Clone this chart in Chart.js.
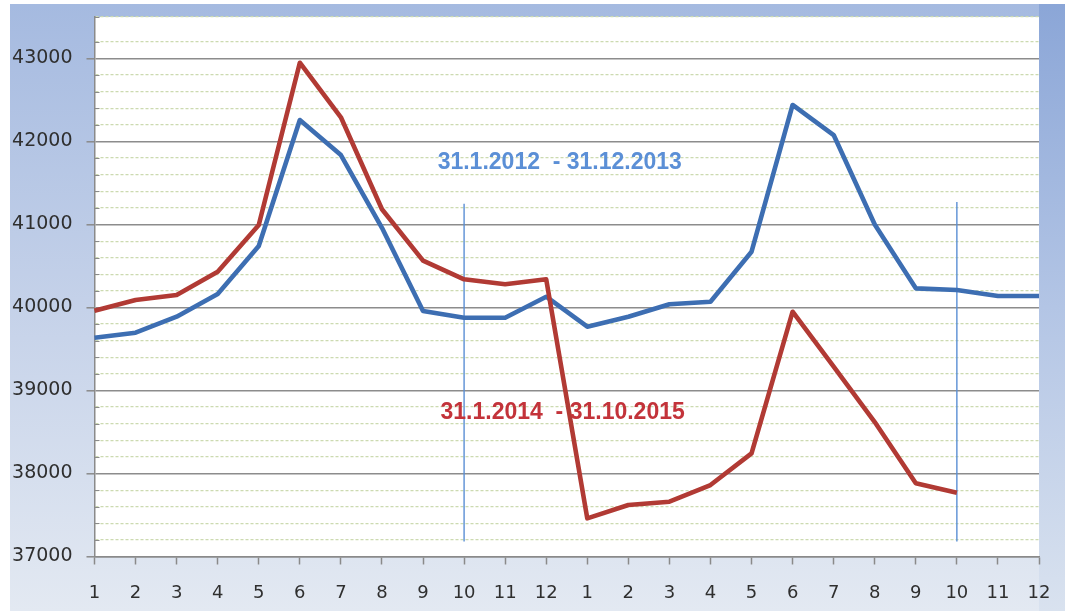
<!DOCTYPE html>
<html>
<head>
<meta charset="utf-8">
<script src="https://cdn.jsdelivr.net/npm/chart.js@4"></script>
<style>
  html, body { margin: 0; padding: 0; background: #ffffff; }
  #wrap { position: relative; width: 1065px; height: 614px; }
</style>
</head>
<body>
<div id="wrap"><canvas id="c" width="1065" height="614"></canvas></div>
<script>
// ---- data ----
const monthLabels = ['1','2','3','4','5','6','7','8','9','10','11','12',
                     '1','2','3','4','5','6','7','8','9','10','11','12'];
// 31.1.2012 - 31.12.2013
const series2012 = [39636, 39696, 39889, 40163, 40741, 42259, 41837, 40960, 39958, 39877, 39877, 40130,
                    39769, 39889, 40039, 40070, 40672, 42440, 42078, 41000, 40231, 40211, 40139, 40139];
// 31.1.2014 - 31.10.2015
const series2014 = [39961, 40090, 40151, 40431, 40994, 42949, 42292, 41183, 40564, 40340, 40280, 40340,
                    37460, 37620, 37660, 37861, 38243, 39949, 39287, 38620, 37882, 37769];
const seriesNames = ['31.1.2012  - 31.12.2013', '31.1.2014  - 31.10.2015'];
// vertical divider lines (category position, top value, bottom value)
const dividerIndex = [9, 21];
const dividerTop = [41250, 41270];
const dividerBottom = [37180, 37180];
// text labels inside the plot (category position, value)
const labelX = [11.33, 11.40];
const labelY = [41750, 38730];
const yMin = 37000, yMax = 43500, yStep = 200, yMajor = 1000;

const BLUE = '#3d6eb2';
const RED = '#b13a34';
const DIV = '#5a8ed4';

const dividerSets = dividerIndex.map((xi, k) => ({
  label: 'divider' + k,
  xAxisID: 'xpos',
  data: [{x: xi, y: dividerTop[k]}, {x: xi, y: dividerBottom[k]}],
  borderColor: DIV,
  borderWidth: 1.4,
  pointRadius: 0,
  fill: false,
  order: 3
}));

const bgPlugin = {
  id: 'bg',
  beforeDraw(chart) {
    const ctx = chart.ctx, a = chart.chartArea;
    const W = chart.width, H = chart.height;
    ctx.save();
    ctx.fillStyle = '#ffffff';
    ctx.fillRect(0, 0, W, H);
    const g = ctx.createLinearGradient(0, 4, 0, 611);
    g.addColorStop(0, '#a5bae0');
    g.addColorStop(0.55, '#c8d4ea');
    g.addColorStop(1, '#e3e9f2');
    ctx.fillStyle = g;
    ctx.fillRect(10, 4, W - 10, 607);
    const g2 = ctx.createLinearGradient(0, 4, 0, 611);
    g2.addColorStop(0, '#8ba6d7');
    g2.addColorStop(0.5, '#b3c5e5');
    g2.addColorStop(1, '#d9e2ef');
    ctx.fillStyle = g2;
    ctx.fillRect(a.right, 4, W - a.right, 607);
    ctx.fillStyle = '#ffffff';
    ctx.fillRect(a.left, a.top, a.right - a.left, a.bottom - a.top);
    ctx.restore();
  },
  afterDraw(chart) {
    const ctx = chart.ctx, y = chart.scales.y, a = chart.chartArea;
    ctx.save();
    ctx.strokeStyle = '#8a8a8a';
    ctx.lineWidth = 1;
    y.ticks.forEach(t => {
      if (t.value % yMajor !== 0) {
        const py = Math.round(y.getPixelForValue(t.value)) + 0.5;
        ctx.beginPath();
        ctx.moveTo(a.left, py);
        ctx.lineTo(a.left + 5, py);
        ctx.stroke();
      }
    });
    ctx.restore();
  },
  afterDatasetsDraw(chart) {
    const ctx = chart.ctx, xs = chart.scales.x, ys = chart.scales.y;
    ctx.save();
    ctx.font = 'bold 23px "Liberation Sans", Arial, sans-serif';
    ctx.textAlign = 'center';
    ctx.textBaseline = 'middle';
    const cols = ['#5b8fd6', '#c3333a'];
    seriesNames.forEach((s, i) => {
      ctx.fillStyle = cols[i];
      ctx.fillText(s, xs.getPixelForValue(labelX[i]), ys.getPixelForValue(labelY[i]));
    });
    ctx.restore();
  }
};

new Chart(document.getElementById('c'), {
  type: 'line',
  data: {
    labels: monthLabels,
    datasets: [
      { label: seriesNames[1], data: series2014, borderColor: RED, borderWidth: 4.6,
        pointRadius: 0, fill: false, tension: 0, borderJoinStyle: 'round', order: 1 },
      { label: seriesNames[0], data: series2012, borderColor: BLUE, borderWidth: 4.6,
        pointRadius: 0, fill: false, tension: 0, borderJoinStyle: 'round', order: 2 },
      ...dividerSets
    ]
  },
  options: {
    responsive: false,
    animation: false,
    events: [],
    layout: { padding: { left: 0, top: 17, right: 26, bottom: 0 } },
    plugins: { legend: { display: false }, tooltip: { enabled: false } },
    scales: {
      x: {
        type: 'category',
        offset: false,
        grid: { display: true, drawOnChartArea: false, drawTicks: true, tickLength: 8,
                tickColor: '#8a8a8a', tickWidth: 1.5 },
        border: { display: true, color: '#8a8a8a', width: 1.5 },
        ticks: { autoSkip: false, maxRotation: 0, minRotation: 0, padding: 18,
                 color: '#2f2f2f', font: { family: '"DejaVu Sans", Verdana, sans-serif', size: 18 } },
        afterFit(s) { s.height = 57.5; s.paddingLeft = 0; s.paddingRight = 0; }
      },
      xpos: {
        type: 'linear',
        display: false,
        offset: false,
        min: 0,
        max: monthLabels.length - 1
      },
      y: {
        min: yMin, max: yMax,
        grid: {
          color: c => (c.tick && c.tick.value % yMajor === 0) ? '#8c8c8c' : '#ccdab0',
          lineWidth: c => (c.tick && c.tick.value % yMajor === 0) ? 1.6 : 1.2,
          tickLength: 8,
          tickColor: c => (c.tick && c.tick.value % yMajor === 0) ? '#8a8a8a' : 'rgba(0,0,0,0)',
          tickWidth: 1.5
        },
        border: { display: true, color: '#8a8a8a', width: 1.5,
                  dash: c => (c.tick && c.tick.value % yMajor === 0) ? [] : [3, 2] },
        ticks: {
          stepSize: yStep,
          autoSkip: false,
          padding: 14,
          color: '#2f2f2f',
          font: { family: '"DejaVu Sans", Verdana, sans-serif', size: 19 },
          callback: v => (v % yMajor === 0) ? String(v) : ''
        },
        afterFit(s) { s.width = 94.5; s.paddingTop = 0; s.paddingBottom = 0; }
      }
    }
  },
  plugins: [bgPlugin]
});
</script>
</body>
</html>
